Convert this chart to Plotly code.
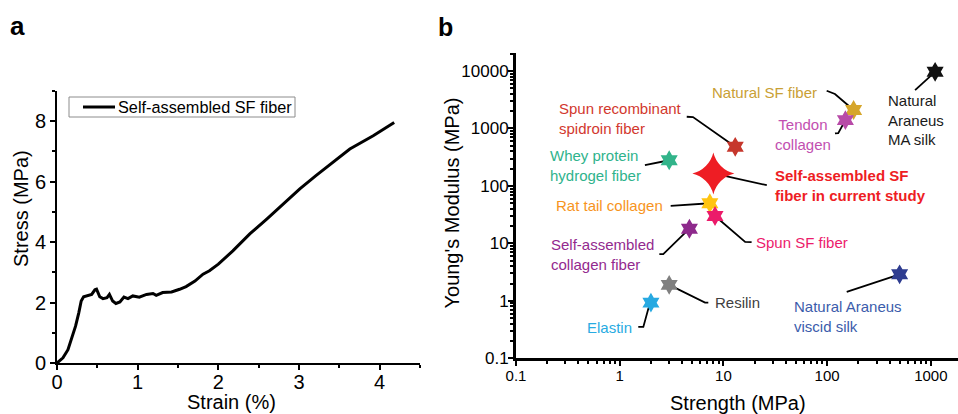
import math
import plotly.graph_objects as go

W, H = 958, 414
FONT = "Liberation Sans, Arial, Helvetica, sans-serif"

# ---------------- Panel a: stress-strain curve ----------------
strain = [0, 0.074, 0.136, 0.178, 0.23, 0.27, 0.30, 0.33, 0.37, 0.43, 0.47, 0.49,
          0.53, 0.57, 0.62, 0.65, 0.69, 0.73, 0.78, 0.83, 0.88, 0.94, 1.02, 1.11,
          1.19, 1.23, 1.31, 1.42, 1.52, 1.60, 1.71, 1.81, 1.89, 2.00, 2.18, 2.39,
          2.60, 2.80, 3.01, 3.21, 3.40, 3.63, 3.92, 4.18]
stress = [0, 0.17, 0.44, 0.78, 1.22, 1.66, 2.05, 2.19, 2.22, 2.27, 2.42, 2.44,
          2.19, 2.13, 2.16, 2.27, 2.05, 1.97, 2.02, 2.18, 2.13, 2.22, 2.18, 2.27,
          2.30, 2.24, 2.33, 2.35, 2.44, 2.53, 2.71, 2.94, 3.05, 3.27, 3.71, 4.27,
          4.76, 5.26, 5.76, 6.20, 6.60, 7.08, 7.52, 7.96]
series_name = "Self-assembled SF fiber"

# ---------------- Panel b: Ashby-style plot ----------------
materials = ["Natural Araneus MA silk", "Natural SF fiber", "Tendon collagen",
             "Spun recombinant spidroin fiber", "Whey protein hydrogel fiber",
             "Self-assembled SF fiber in current study", "Rat tail collagen",
             "Spun SF fiber", "Self-assembled collagen fiber", "Resilin",
             "Elastin", "Natural Araneus viscid silk"]
strength = [1100, 180, 150, 13, 3.0, 8.0, 7.4, 8.3, 4.7, 3.0, 2.0, 500]
modulus = [9700, 2100, 1400, 480, 280, 165, 50, 30, 18, 1.9, 0.93, 2.9]

label_text = ["Natural<br>Araneus<br>MA silk", "Natural SF fiber", "Tendon<br>collagen",
              "Spun recombinant<br>spidroin fiber", "Whey protein<br>hydrogel fiber",
              "<b>Self-assembled SF<br>fiber in current study</b>", "Rat tail collagen",
              "Spun SF fiber", "Self-assembled<br>collagen fiber", "Resilin",
              "Elastin", "Natural Araneus<br>viscid silk"]
marker_colors = ["#111111", "#D6A62B", "#B84BA8", "#C6372C", "#32B48A", "#EE1D24",
                 "#FFC411", "#EB1B6A", "#8E2A8C", "#808080", "#27A9E1", "#2E3C90"]
text_colors = ["#1a1a1a", "#C9A035", "#C24FB0", "#D2382E", "#2FB38C", "#EE1D24",
               "#F7941D", "#EC1C6C", "#93298E", "#404040", "#28ABE2", "#3B5CAB"]

# label placement (data units) and leader-line bend points (data units)
label_x = [370, 83.6, 58.6, 0.247, 0.204, 30.3, 2.73, 19.7, 0.208, 7.89, 1.37, 45.6]
label_y = [1429, 4305, 798, 1486, 223, 103, 46.4, 10.2, 6.43, 0.919, 0.343, 0.535]
label_anchor = ["left", "right", "center", "left", "left", "left", "right",
                "left", "left", "left", "right", "left"]
leader_x = [[705], [99, 119], [119, 128], [4.43, 5.09], [1.75], [26.2], [3.1],
            [18.7, 16.2], [2.41, 2.63], [7.15, 6.65], [1.51, 1.69, 1.89], [154.5]]
leader_y = [[4667], [4540, 3981], [822, 832], [1600, 1581], [230], [103], [45],
            [10.5, 10.6], [6.48, 6.48], [0.933, 0.933], [0.351, 0.351, 0.734], [1.43]]

# ---------------- layout geometry ----------------
ax_dom_x = [57 / W, 420 / W]
ax_dom_y = [1 - 363 / H, 1 - 91 / H]
bx_dom_x = [516 / W, 1.0]
bx_dom_y = [1 - 358.3 / H, 1 - 53 / H]

fig = go.Figure()

fig.add_trace(go.Scatter(x=strain, y=stress, mode="lines", name=series_name,
                         line=dict(color="black", width=3), xaxis="x", yaxis="y",
                         showlegend=False))

for i in range(len(materials)):
    fig.add_trace(go.Scatter(x=leader_x[i] + [strength[i]], y=leader_y[i] + [modulus[i]],
                             mode="lines", line=dict(color="black", width=1.8),
                             xaxis="x2", yaxis="y2", showlegend=False, hoverinfo="skip"))

symbols = ["star-diamond" if m.startswith("Self-assembled SF") else "hexagram" for m in materials]
sizes = [30 if s == "star-diamond" else 15 for s in symbols]
fig.add_trace(go.Scatter(x=strength, y=modulus, mode="markers", text=materials,
                         marker=dict(symbol=symbols, size=sizes, color=marker_colors,
                                     opacity=1, line=dict(width=0)),
                         xaxis="x2", yaxis="y2", showlegend=False))

annotations = []
for i in range(len(materials)):
    annotations.append(dict(x=math.log10(label_x[i]), y=math.log10(label_y[i]),
                            xref="x2", yref="y2", text=label_text[i], showarrow=False,
                            xanchor=label_anchor[i], yanchor="middle",
                            align="center" if label_anchor[i] == "center" else "left",
                            font=dict(family=FONT, size=15, color=text_colors[i])))


def paper_text(px, py, text, size, angle=0, xanchor="center"):
    return dict(x=px / W, y=1 - py / H, xref="paper", yref="paper", text=text,
                textangle=angle, showarrow=False, xanchor=xanchor, yanchor="middle",
                font=dict(family=FONT, size=size, color="black"))


# axis titles, panel letters, legend text
annotations += [
    paper_text(231.8, 401.7, "Strain (%)", 20),
    paper_text(21, 209, "Stress (MPa)", 20, angle=-90),
    paper_text(738, 403.3, "Strength (MPa)", 20),
    paper_text(451.5, 203, "Young's Modulus (MPa)", 20, angle=-90),
    paper_text(17, 26, "<b>a</b>", 26),
    paper_text(445, 27, "<b>b</b>", 25),
    paper_text(116, 107, series_name, 16.3, xanchor="left"),
]

# manual legend box for panel a
shapes = [
    dict(type="rect", xref="paper", yref="paper", x0=69 / W, x1=295 / W,
         y0=1 - 117 / H, y1=1 - 97 / H, line=dict(color="#8c8c8c", width=1),
         fillcolor="white", layer="above"),
    dict(type="line", xref="paper", yref="paper", x0=83 / W, x1=115 / W,
         y0=1 - 107 / H, y1=1 - 107 / H, line=dict(color="black", width=3), layer="above"),
]

decades = [0.1, 1, 10, 100, 1000, 10000]
minor_vals = [d * k for d in [0.1, 1, 10, 100, 1000, 10000] for k in range(2, 10)]

fig.update_layout(
    width=W, height=H, autosize=False,
    margin=dict(l=0, r=0, t=0, b=0, pad=0),
    paper_bgcolor="white", plot_bgcolor="white",
    font=dict(family=FONT, color="black"),
    showlegend=False,
    xaxis=dict(domain=ax_dom_x, range=[0, 4.5], anchor="y", showgrid=False, zeroline=False,
               automargin=False,
               showline=True, linecolor="black", linewidth=2, ticks="outside", ticklen=5,
               tickwidth=2, tickcolor="black", dtick=1, tick0=0, ticklabelstandoff=-5,
               tickfont=dict(size=20, family=FONT),
               minor=dict(ticks="outside", ticklen=3, tickwidth=2, dtick=0.5, tickcolor="black")),
    yaxis=dict(domain=ax_dom_y, range=[0, 9], anchor="x", showgrid=False, zeroline=False,
               automargin=False,
               showline=True, linecolor="black", linewidth=2, ticks="outside", ticklen=5,
               tickwidth=2, tickcolor="black", dtick=2, tick0=0,
               tickfont=dict(size=20, family=FONT),
               minor=dict(ticks="outside", ticklen=3, tickwidth=2, dtick=1, tickcolor="black")),
    xaxis2=dict(domain=bx_dom_x, type="log", range=[-1, 3.262], anchor="y2", showgrid=False,
                zeroline=False, showline=True, linecolor="black", linewidth=3,
                automargin=False, ticklabelstandoff=-3,
                ticks="outside", ticklen=5, tickwidth=2, tickcolor="black",
                tickmode="array", tickvals=decades[:5], ticktext=["0.1", "1", "10", "100", "1000"],
                tickfont=dict(size=15, family=FONT),
                minor=dict(ticks="outside", ticklen=3, tickwidth=1.5, tickcolor="black",
                           tickmode="array", tickvals=minor_vals)),
    yaxis2=dict(domain=bx_dom_y, type="log", range=[-1, 4.314], anchor="x2", showgrid=False,
                zeroline=False, showline=True, linecolor="black", linewidth=3,
                automargin=False, ticklabelstandoff=-4,
                ticks="outside", ticklen=5, tickwidth=2, tickcolor="black",
                tickmode="array", tickvals=decades,
                ticktext=["0.1", "1", "10", "100", "1000", "10000"],
                tickfont=dict(size=17, family=FONT),
                minor=dict(ticks="outside", ticklen=3, tickwidth=1.5, tickcolor="black",
                           tickmode="array", tickvals=minor_vals)),
    annotations=annotations,
    shapes=shapes,
)

fig.write_html("out.html", config={"displayModeBar": False},
               post_script="document.body.style.margin='0';document.body.style.overflow='hidden';")
